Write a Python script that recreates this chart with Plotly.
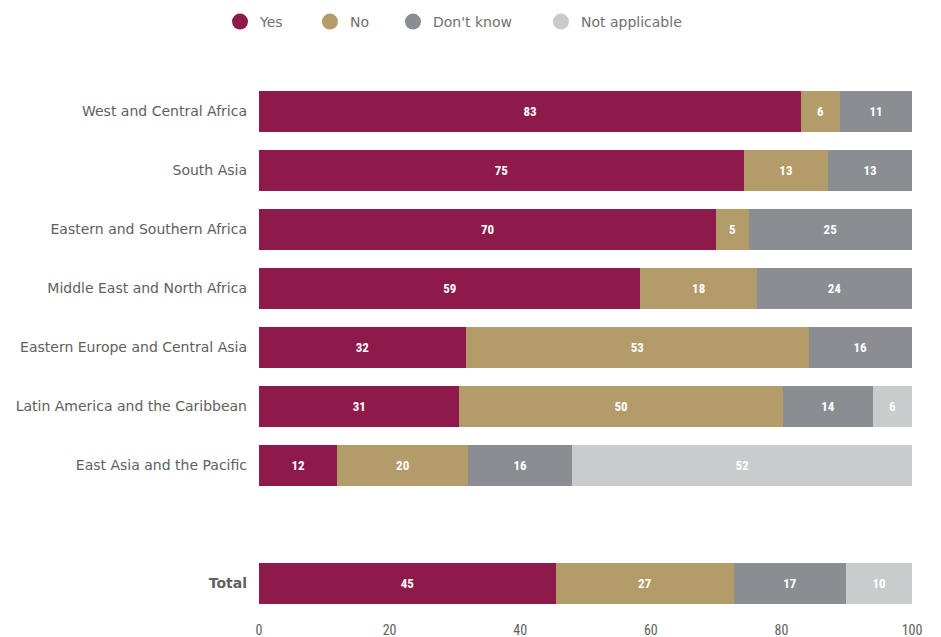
import plotly.graph_objects as go

categories = ["West and Central Africa", "South Asia", "Eastern and Southern Africa",
              "Middle East and North Africa", "Eastern Europe and Central Asia",
              "Latin America and the Caribbean", "East Asia and the Pacific", "Total"]
yes = [83, 75, 70, 59, 32, 31, 12, 45]
no = [6, 13, 5, 18, 53, 50, 20, 27]
dont_know = [11, 13, 25, 24, 16, 14, 16, 17]
not_applicable = [0, 0, 0, 0, 0, 6, 52, 10]

series_names = ["Yes", "No", "Don't know", "Not applicable"]
colors = ["#8E1A4B", "#B39B6A", "#8A8E93", "#C9CCCC"]
legend_x = [0.2253, 0.3209, 0.4091, 0.5664]
x_ticks = [0, 20, 40, 60, 80, 100]

spacer = " "
cat_order = categories[:-1] + [spacer] + categories[-1:]
tick_text = [c if c != "Total" else "<b>Total</b>" for c in cat_order]

NARROW = "Liberation Sans Narrow, Roboto Condensed, Arial Narrow, sans-serif"

fig = go.Figure()
for i, (name, vals, col) in enumerate(zip(series_names, [yes, no, dont_know, not_applicable], colors)):
    fig.add_trace(go.Bar(
        y=categories, x=vals, name=name, orientation="h",
        marker=dict(color=col, line=dict(width=0)),
        text=[str(v) if v else "" for v in vals],
        texttemplate="<b>%{text}</b>",
        textposition="inside", insidetextanchor="middle",
        textfont=dict(color="white", size=13, family=NARROW),
        showlegend=False, hoverinfo="skip",
    ))
    lg = "legend" if i == 0 else f"legend{i+1}"
    fig.add_trace(go.Scatter(
        x=[None], y=[None], mode="markers", name=name,
        marker=dict(symbol="circle", size=16, color=col),
        showlegend=True, legend=lg,
    ))

legend_common = dict(orientation="h", xanchor="left", yanchor="middle",
                     xref="container", yref="container", y=1 - 14 / 637,
                     font=dict(size=14, color="#707070", family="DejaVu Sans"),
                     bgcolor="rgba(0,0,0,0)")

fig.update_layout(
    barmode="stack", barnorm="percent", bargap=0.32,
    width=941, height=637,
    margin=dict(l=251, r=37, t=74, b=32, autoexpand=False),
    plot_bgcolor="white", paper_bgcolor="white",
    font=dict(family="DejaVu Sans", size=14, color="#606060"),
    legend=dict(legend_common, x=legend_x[0]),
    legend2=dict(legend_common, x=legend_x[1]),
    legend3=dict(legend_common, x=legend_x[2]),
    legend4=dict(legend_common, x=legend_x[3]),
    xaxis=dict(range=[0, 100], tickvals=x_ticks, showgrid=False, zeroline=False,
               showline=False, ticks="", ticklabelstandoff=7, automargin=False,
               tickfont=dict(size=14, color="#606060", family=NARROW),
               fixedrange=True),
    yaxis=dict(type="category", categoryorder="array", categoryarray=cat_order,
               tickvals=cat_order, ticktext=tick_text, automargin=False,
               autorange=False, range=[len(cat_order) - 0.5, -0.5],
               showgrid=False, zeroline=False, showline=False, ticks="",
               ticklabelstandoff=11, tickfont=dict(size=14, color="#606060")),
)
fig.write_html("out.html")
